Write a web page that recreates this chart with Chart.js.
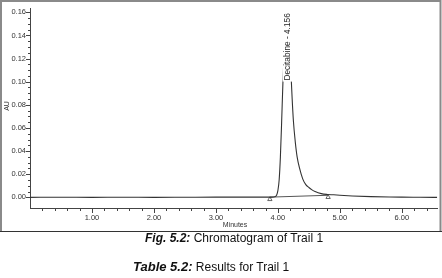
<!DOCTYPE html>
<html>
<head>
<meta charset="utf-8">
<script src="https://cdn.jsdelivr.net/npm/chart.js@4"></script>
<style>
  html, body { margin: 0; padding: 0; background: #fff; }
  #wrap { position: relative; width: 442px; height: 278px; overflow: hidden; }
  #chromCanvas { position: absolute; left: 0; top: 0; }
  .cap { position: absolute; font-family: "Liberation Sans", Arial, sans-serif; font-size: 12px; color: #111; white-space: nowrap; line-height: 14px; }
  .cap b { font-style: italic; }
</style>
</head>
<body>
<div id="wrap">
  <canvas id="chromCanvas" width="442" height="232"></canvas>
  <div class="cap" id="figCap" style="left:145px; top:231px;"><b>Fig. 5.2:</b> Chromatogram of Trail 1</div>
  <div class="cap" id="tabCap" style="left:133px; top:260px;"><b style="font-size:13px">Table 5.2:</b> Results for Trail 1</div>
</div>
<script>
// retention time (min) and detector response (AU)
const times = [0.00, 0.50, 1.00, 1.50, 2.00, 2.50, 3.00, 3.50, 3.80, 3.90, 3.95, 3.98, 4.00, 4.02, 4.04, 4.06, 4.08, 4.10, 4.12, 4.14, 4.156, 4.17, 4.19, 4.21, 4.23, 4.25, 4.28, 4.31, 4.35, 4.40, 4.45, 4.50, 4.55, 4.60, 4.70, 4.80, 4.90, 5.00, 5.20, 5.50, 5.80, 6.00, 6.30, 6.57];
const absorbance = [0.0000, 0.0001, 0.0000, 0.0001, 0.0000, 0.0001, 0.0002, 0.0002, 0.0002, 0.0002, 0.0005, 0.0020, 0.0060, 0.0150, 0.0350, 0.0650, 0.0980, 0.1250, 0.1430, 0.1520, 0.1540, 0.1510, 0.1350, 0.1080, 0.0850, 0.0660, 0.0480, 0.0350, 0.0250, 0.0160, 0.0110, 0.0085, 0.0065, 0.0050, 0.0032, 0.0025, 0.0022, 0.0018, 0.0012, 0.0006, 0.0003, 0.0002, 0.0001, 0.0000];

// integration baseline and its start / end markers
const baseTimes = [3.87, 4.81];
const baseValues = [0.0002, 0.0018];
const markerTimes = [3.87, 4.81];
const markerValues = [-0.0017, 0.0001];

const peakName = "Decitabine";
const peakTime = 4.156;
const peakHeight = 0.154;

const yTickValues = [0.00, 0.02, 0.04, 0.06, 0.08, 0.10, 0.12, 0.14, 0.16];
const xTickValues = [1, 2, 3, 4, 5, 6];

const axisFont = '"Liberation Sans", Arial, sans-serif';

// tick marks, frame, axis titles and peak label
const decorPlugin = {
  id: "decor",
  afterDraw(chart) {
    const ctx = chart.ctx;
    const xs = chart.scales.x;
    const ys = chart.scales.y;
    const area = chart.chartArea;
    ctx.save();
    ctx.strokeStyle = "#444";
    ctx.lineWidth = 1;

    // y ticks (minor every 0.005)
    for (let i = 0; i <= 32; i++) {
      const py = Math.round(ys.getPixelForValue(i * 0.005)) + 0.5;
      const len = i % 4 === 0 ? 4 : 2;
      ctx.beginPath();
      ctx.moveTo(area.left - len, py);
      ctx.lineTo(area.left, py);
      ctx.stroke();
    }
    // x ticks (minor every 0.2)
    for (let i = 1; i <= 32; i++) {
      const px = Math.round(xs.getPixelForValue(i * 0.2)) + 0.5;
      const len = i % 5 === 0 ? 5 : 3;
      ctx.beginPath();
      ctx.moveTo(px, area.bottom);
      ctx.lineTo(px, area.bottom + len);
      ctx.stroke();
    }

    // axis titles
    ctx.fillStyle = "#333";
    ctx.font = "7px " + axisFont;
    ctx.textAlign = "center";
    ctx.textBaseline = "middle";
    ctx.fillText("Minutes", 235, 225);
    ctx.save();
    ctx.translate(7, 106);
    ctx.rotate(-Math.PI / 2);
    ctx.fillText("AU", 0, 0);
    ctx.restore();

    // peak label, rotated, with white backing
    const lx = xs.getPixelForValue(peakTime);
    const ly = ys.getPixelForValue(peakHeight) - 6;
    const text = peakName + " - " + peakTime.toFixed(3);
    ctx.save();
    ctx.translate(lx, ly);
    ctx.rotate(-Math.PI / 2);
    ctx.font = "8.3px " + axisFont;
    const w = ctx.measureText(text).width;
    ctx.fillStyle = "#fff";
    ctx.fillRect(-w - 1, -5, w + 2, 10);
    ctx.fillStyle = "#222";
    ctx.textAlign = "right";
    ctx.textBaseline = "middle";
    ctx.fillText(text, 0, 0.5);
    ctx.restore();

    // outer frame
    ctx.strokeStyle = "#8a8a8a";
    ctx.lineWidth = 2;
    ctx.beginPath();
    ctx.moveTo(1, 231);
    ctx.lineTo(1, 1);
    ctx.lineTo(440.5, 1);
    ctx.lineTo(440.5, 231);
    ctx.stroke();
    ctx.strokeStyle = "#333";
    ctx.lineWidth = 1;
    ctx.beginPath();
    ctx.moveTo(0, 231.5);
    ctx.lineTo(442, 231.5);
    ctx.stroke();
    ctx.restore();
  }
};

new Chart(document.getElementById("chromCanvas").getContext("2d"), {
  type: "line",
  data: {
    datasets: [
      {
        label: "trace",
        data: times.map((t, i) => ({ x: t, y: absorbance[i] })),
        borderColor: "#333",
        borderWidth: 1.1,
        pointRadius: 0,
        cubicInterpolationMode: "monotone",
      },
      {
        label: "baseline",
        data: baseTimes.map((t, i) => ({ x: t, y: baseValues[i] })),
        borderColor: "#555",
        borderWidth: 1,
        pointRadius: 0,
      },
      {
        label: "markers",
        data: markerTimes.map((t, i) => ({ x: t, y: markerValues[i] })),
        showLine: false,
        pointStyle: "triangle",
        pointRadius: 2.5,
        pointBorderWidth: 0.8,
        pointBorderColor: "#444",
        pointBackgroundColor: "#fff",
      },
    ],
  },
  options: {
    responsive: false,
    animation: false,
    layout: { padding: { top: 1, right: 2, bottom: 0, left: 0 } },
    plugins: {
      legend: { display: false },
      tooltip: { enabled: false },
    },
    scales: {
      x: {
        type: "linear",
        min: 0,
        max: 6.57,
        afterFit: (scale) => { scale.height = 24; },
        afterBuildTicks: (scale) => { scale.ticks = xTickValues.map((v) => ({ value: v })); },
        grid: { display: false, drawTicks: false },
        border: { display: true, color: "#444", width: 1 },
        ticks: {
          padding: 5,
          maxRotation: 0,
          autoSkip: false,
          color: "#333",
          font: { family: axisFont, size: 7.5 },
          callback: (v) => Number(v).toFixed(2),
        },
      },
      y: {
        min: -0.0092,
        max: 0.1633,
        afterFit: (scale) => { scale.width = 30; },
        afterBuildTicks: (scale) => { scale.ticks = yTickValues.map((v) => ({ value: v })); },
        grid: { display: false, drawTicks: false },
        border: { display: true, color: "#444", width: 1 },
        ticks: {
          padding: 4,
          autoSkip: false,
          color: "#333",
          font: { family: axisFont, size: 7.5 },
          callback: (v) => Number(v).toFixed(2),
        },
      },
    },
  },
  plugins: [decorPlugin],
});
</script>
</body>
</html>
